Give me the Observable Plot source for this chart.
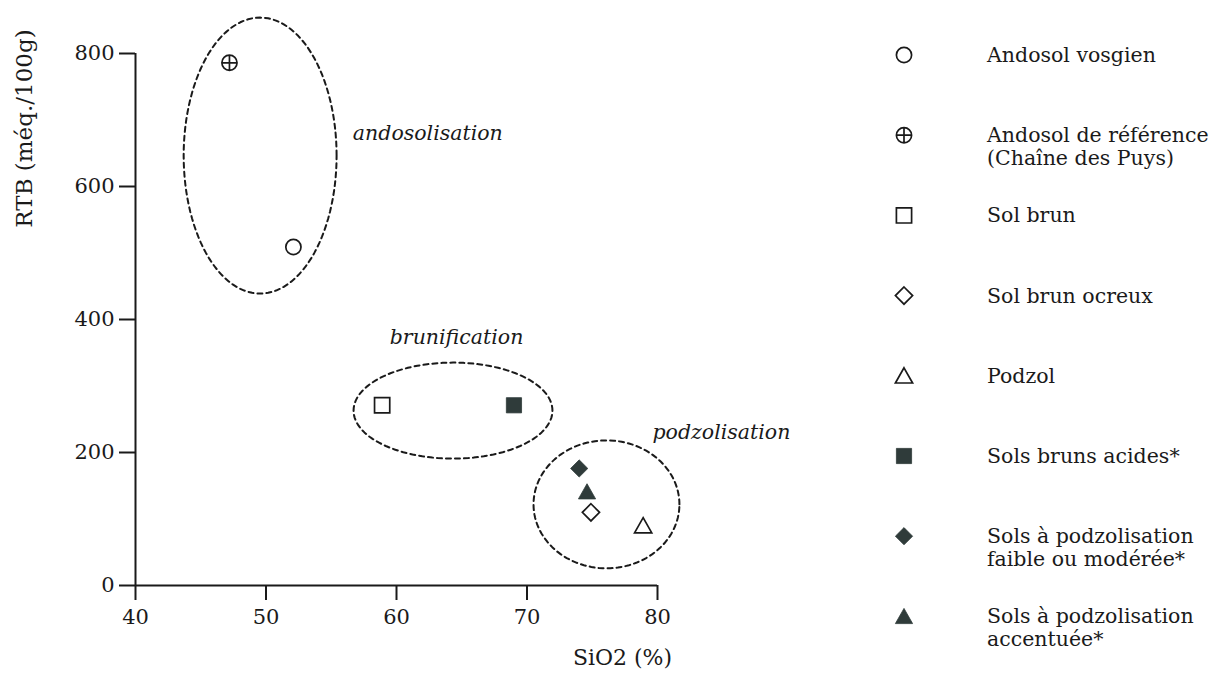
<!DOCTYPE html>
<html><head><meta charset="utf-8">
<script src="https://cdn.jsdelivr.net/npm/d3@7"></script>
<script src="https://cdn.jsdelivr.net/npm/@observablehq/plot@0.6"></script>
<style>
body{margin:0;background:#fff;}
#wrap{position:relative;width:1210px;height:674px;font-family:"DejaVu Serif",serif;color:#1e1e1e;}
#legend{position:absolute;left:0;top:0;pointer-events:none;}
</style></head><body><div id="wrap"></div>
<script>
// ---- data ----
const soils = ["Andosol vosgien", "Andosol de référence (Chaîne des Puys)", "Sol brun", "Sol brun ocreux", "Podzol", "Sols bruns acides*", "Sols à podzolisation faible ou modérée*", "Sols à podzolisation accentuée*"];
const legendLines = [["Andosol vosgien"], ["Andosol de référence", "(Chaîne des Puys)"], ["Sol brun"], ["Sol brun ocreux"], ["Podzol"], ["Sols bruns acides*"], ["Sols à podzolisation", "faible ou modérée*"], ["Sols à podzolisation", "accentuée*"]];
const sio2 = [52.1, 47.2, 58.9, 74.9, 78.9, 69.0, 74.0, 74.6];
const rtb = [509, 786, 271, 110, 90, 271, 176, 141];
const xTicks = [40, 50, 60, 70, 80];
const yTicks = [0, 200, 400, 600, 800];
const xLabel = "SiO2 (%)";
const yLabel = "RTB (méq./100g)";
// process groupings (ellipse annotations): centre and radii in data units
const processNames = ["andosolisation", "brunification", "podzolisation"];
const processCx = [49.55, 64.33, 76.09];
const processCy = [646.5, 263, 122];
const processRx = [5.86, 7.62, 5.59];
const processRy = [207.5, 72.2, 96.2];
const processLabelX = [62.4, 64.6, 84.9];
const processLabelY = [680, 373, 230];

// ---- styles ----
const symbolKinds = ["circle", "circlePlus", "square", "diamond", "triangle", "square", "diamond", "triangle"];
const isFilled = [false, false, false, false, false, true, true, true];
const darkFill = "#2f3b3a";
const ink = "#1a1a1a";

const SYM = {
  circle: {draw(c) { c.moveTo(7.6, 0); c.arc(0, 0, 7.6, 0, 2 * Math.PI); }},
  circlePlus: {draw(c) { c.moveTo(7.6, 0); c.arc(0, 0, 7.6, 0, 2 * Math.PI); c.moveTo(-7.6, 0); c.lineTo(7.6, 0); c.moveTo(0, -7.6); c.lineTo(0, 7.6); }},
  square: {draw(c) { c.rect(-7.6, -7.6, 15.2, 15.2); }},
  diamond: {draw(c) { c.moveTo(0, -8.6); c.lineTo(8.6, 0); c.lineTo(0, 8.6); c.lineTo(-8.6, 0); c.closePath(); }},
  triangle: {draw(c) { c.moveTo(0, -8); c.lineTo(8.6, 7.2); c.lineTo(-8.6, 7.2); c.closePath(); }}
};

// ellipse outlines sampled in data space
const ellipsePts = [];
processNames.forEach((name, k) => {
  for (let a = 0; a < 120; ++a) {
    const t = a / 120 * 2 * Math.PI;
    ellipsePts.push({g: name, x: processCx[k] + processRx[k] * Math.cos(t), y: processCy[k] + processRy[k] * Math.sin(t)});
  }
});

const idx = d3.range(soils.length);
const dotMarks = idx.map(i => Plot.dot([i], {
  x: j => sio2[j], y: j => rtb[j],
  symbol: SYM[symbolKinds[i]], r: 8,
  fill: isFilled[i] ? darkFill : "none",
  stroke: isFilled[i] ? darkFill : ink,
  strokeWidth: isFilled[i] ? 0.8 : 1.7
}));

const plot = Plot.plot({
  width: 1210, height: 674,
  marginLeft: 135, marginRight: 553, marginTop: 53, marginBottom: 89,
  style: {fontFamily: "'DejaVu Serif', serif", fontSize: "21px", color: ink, background: "transparent"},
  x: {domain: [40, 80]},
  y: {domain: [0, 800]},
  marks: [
    Plot.line(ellipsePts, {x: "x", y: "y", z: "g", curve: "linear-closed", stroke: ink, strokeWidth: 2, strokeDasharray: "5,4"}),
    Plot.axisX({ticks: xTicks, tickSize: 15, tickPadding: 9, strokeWidth: 2, label: null, fontSize: 21}),
    Plot.axisY({ticks: yTicks, tickSize: 16, tickPadding: 5, strokeWidth: 2, label: null, fontSize: 21}),
    Plot.ruleY([0], {stroke: ink, strokeWidth: 2}),
    Plot.ruleX([40], {stroke: ink, strokeWidth: 2}),
    ...dotMarks,
    Plot.text(processNames, {x: (d, i) => processLabelX[i], y: (d, i) => processLabelY[i], text: d => d, fontStyle: "italic", fontSize: 20.5, fill: ink}),
    Plot.text([xLabel], {frameAnchor: "bottom-right", dx: -35, dy: 79, textAnchor: "middle", fontSize: 22, fill: ink}),
    Plot.text([yLabel], {frameAnchor: "top-left", dx: -120, dy: 75, rotate: -90, textAnchor: "middle", fontSize: 23, fill: ink})
  ]
});
const wrap = document.getElementById("wrap");
wrap.appendChild(plot);

// ---- legend (overlay on the right) ----
const lg = d3.select(wrap).append("svg").attr("id", "legend").attr("width", 1210).attr("height", 674)
  .style("font-family", "'DejaVu Serif', serif").style("font-size", "20.5px");
const rowStep = 80.2, rowTop = 55, symX = 904, textX = 987;
idx.forEach(i => {
  const yc = rowTop + i * rowStep;
  lg.append("path").attr("transform", `translate(${symX},${yc})`)
    .attr("d", d3.symbol(SYM[symbolKinds[i]])())
    .attr("fill", isFilled[i] ? darkFill : "none")
    .attr("stroke", isFilled[i] ? darkFill : ink)
    .attr("stroke-width", isFilled[i] ? 0.8 : 1.7);
  legendLines[i].forEach((line, k) => {
    lg.append("text").attr("x", textX).attr("y", yc + 7 + k * 23).attr("fill", ink).text(line);
  });
});
</script></body></html>
